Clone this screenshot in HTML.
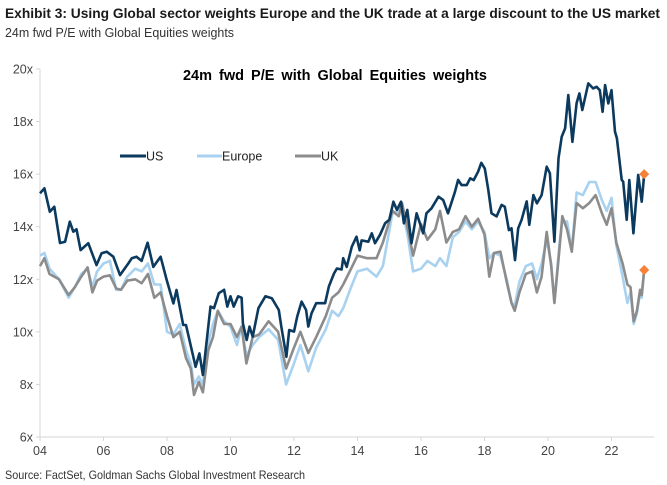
<!DOCTYPE html>
<html><head><meta charset="utf-8"><style>
html,body{margin:0;padding:0;background:#fff;}
svg{display:block;font-family:"Liberation Sans",Arial,sans-serif;}
</style></head><body>
<svg id="chart" width="667" height="485" viewBox="0 0 667 485">
<text x="5" y="18" font-size="14" font-weight="bold" fill="#1a1a1a" textLength="655" lengthAdjust="spacingAndGlyphs">Exhibit 3: Using Global sector weights Europe and the UK trade at a large discount to the US market</text>
<text x="5" y="37" font-size="12.5" fill="#333" textLength="229" lengthAdjust="spacingAndGlyphs">24m fwd P/E with Global Equities weights</text>
<text x="335" y="80" font-size="14.5" font-weight="bold" fill="#000" text-anchor="middle" word-spacing="3">24m fwd P/E with Global Equities weights</text>
<g id="axes"></g>
<g id="series"></g>
<g>
<g><line x1="120" y1="156" x2="146" y2="156" stroke="#0b3a5e" stroke-width="3"/><text x="146" y="160.5" font-size="12.5" fill="#222">US</text></g>
<g><line x1="197" y1="156" x2="222" y2="156" stroke="#a8d2f0" stroke-width="3"/><text x="222" y="160.5" font-size="12.5" fill="#222">Europe</text></g>
<g><line x1="295" y1="156" x2="321" y2="156" stroke="#8c8c8c" stroke-width="3"/><text x="321" y="160.5" font-size="12.5" fill="#222">UK</text></g>
</g>
<text x="5" y="479" font-size="12" fill="#333" textLength="300" lengthAdjust="spacingAndGlyphs">Source: FactSet, Goldman Sachs Global Investment Research</text>
</svg>
<script>
const yTicks = [6,8,10,12,14,16,18,20];
const xTickYears = [2004,2006,2008,2010,2012,2014,2016,2018,2020,2022];
const xTickLabels = ["04","06","08","10","12","14","16","18","20","22"];
const usDates = [2004.0,2004.14,2004.31,2004.45,2004.63,2004.79,2004.94,2005.05,2005.15,2005.28,2005.52,2005.78,2005.94,2006.1,2006.31,2006.52,2006.78,2006.89,2007.04,2007.2,2007.39,2007.57,2007.8,2007.99,2008.2,2008.3,2008.51,2008.6,2008.9,2009.02,2009.13,2009.37,2009.48,2009.63,2009.8,2009.9,2010.0,2010.1,2010.24,2010.35,2010.39,2010.51,2010.6,2010.7,2010.88,2011.1,2011.3,2011.52,2011.6,2011.76,2011.85,2012.0,2012.1,2012.24,2012.38,2012.45,2012.55,2012.7,2012.98,2013.1,2013.26,2013.35,2013.5,2013.55,2013.66,2013.82,2013.97,2014.07,2014.13,2014.34,2014.45,2014.55,2014.71,2014.87,2015.0,2015.13,2015.24,2015.37,2015.46,2015.57,2015.7,2015.86,2016.07,2016.17,2016.33,2016.55,2016.7,2016.85,2017.07,2017.17,2017.28,2017.44,2017.55,2017.66,2017.8,2017.9,2018.01,2018.12,2018.22,2018.38,2018.54,2018.64,2018.77,2018.85,2018.96,2019.06,2019.17,2019.33,2019.41,2019.54,2019.65,2019.8,2019.96,2020.06,2020.2,2020.33,2020.43,2020.54,2020.64,2020.77,2020.9,2020.99,2021.08,2021.27,2021.42,2021.53,2021.63,2021.72,2021.8,2021.9,2022.0,2022.11,2022.17,2022.32,2022.37,2022.48,2022.56,2022.69,2022.84,2022.95,2023.03];
const usValues = [15.27,15.46,14.57,14.76,13.38,13.43,14.19,13.81,13.9,13.11,13.37,12.54,12.99,13.05,12.86,12.16,12.6,12.8,12.86,12.7,13.39,12.47,12.86,11.97,11.08,11.59,10.26,10.26,8.67,9.18,8.36,10.96,10.9,11.47,11.6,10.96,11.35,10.96,11.35,11.3,10.32,9.69,10.2,9.82,10.9,11.35,11.28,10.83,10.2,9.05,10.07,10.01,10.58,11.15,10.83,10.2,10.7,11.09,11.09,11.73,12.22,12.41,12.37,12.8,12.47,13.24,13.62,13.1,13.48,13.43,13.75,13.37,13.69,14.13,14.26,14.95,14.64,14.95,14.13,14.64,13.37,14.51,13.75,14.51,14.7,15.14,15.01,14.51,15.33,15.78,15.58,15.58,15.84,15.77,16.09,16.43,16.21,15.4,14.51,14.39,14.83,14.76,13.87,13.94,12.73,13.94,14.26,14.96,14.07,15.2,14.89,15.2,16.28,16.03,13.43,16.6,17.42,17.74,19.01,17.23,18.7,19.07,18.44,19.45,19.26,19.32,19.19,18.37,19.39,18.69,19.19,17.61,17.36,15.78,15.71,14.26,15.77,13.75,15.97,14.95,16.0];
const euDates = [2004.0,2004.14,2004.3,2004.6,2004.9,2005.1,2005.3,2005.5,2005.65,2005.8,2006.0,2006.2,2006.4,2006.55,2006.75,2007.0,2007.2,2007.4,2007.6,2007.8,2008.0,2008.2,2008.4,2008.6,2008.75,2008.85,2009.0,2009.13,2009.3,2009.45,2009.6,2009.8,2010.0,2010.2,2010.35,2010.5,2010.7,2010.9,2011.2,2011.5,2011.75,2012.0,2012.2,2012.45,2012.7,2013.0,2013.2,2013.4,2013.55,2013.8,2014.0,2014.3,2014.6,2014.8,2015.1,2015.3,2015.4,2015.6,2015.75,2016.0,2016.2,2016.45,2016.6,2016.8,2017.0,2017.2,2017.4,2017.6,2017.8,2018.0,2018.15,2018.3,2018.5,2018.7,2018.85,2018.95,2019.1,2019.3,2019.5,2019.65,2019.8,2019.96,2020.1,2020.2,2020.35,2020.45,2020.6,2020.75,2020.9,2021.1,2021.3,2021.5,2021.7,2021.85,2022.0,2022.15,2022.35,2022.5,2022.6,2022.7,2022.8,2022.9,2022.95,2023.03];
const euValues = [12.9,13.0,12.4,12.0,11.3,11.7,12.2,12.4,11.7,12.3,12.6,12.7,11.6,11.6,12.1,12.4,12.3,12.6,11.8,11.8,10.0,9.9,10.3,9.3,8.8,8.0,8.3,8.0,9.6,10.3,10.8,10.4,10.2,9.5,10.2,9.1,9.5,9.8,10.1,9.7,8.0,8.8,9.5,8.5,9.4,10.1,10.8,10.6,10.9,11.7,12.3,12.4,12.1,12.5,14.5,14.6,14.8,13.5,12.3,12.4,12.7,12.5,12.8,12.5,13.6,13.8,14.2,13.9,14.2,13.8,12.8,13.0,12.9,12.0,11.1,11.0,11.9,12.5,12.6,12.0,12.6,13.5,12.6,11.1,13.2,14.2,14.2,13.1,15.3,15.2,15.7,15.7,15.0,14.6,15.1,13.3,12.1,11.1,11.5,10.3,10.7,11.5,11.3,12.35];
const ukDates = euDates;
const ukValues = [12.5,12.8,12.2,12.0,11.4,11.7,12.1,12.45,11.5,11.95,12.1,12.15,11.65,11.6,11.95,12.0,11.85,12.2,11.3,11.5,10.6,9.8,10.0,9.0,8.6,7.6,8.1,7.7,9.3,9.8,10.8,10.3,10.3,9.8,10.2,8.8,9.8,9.9,10.4,10.0,8.6,9.4,10.0,9.2,9.8,10.6,11.3,11.5,11.8,12.4,12.9,12.8,12.8,13.4,14.6,14.4,14.9,13.8,12.9,14.1,13.5,13.9,14.6,13.4,13.8,13.9,14.4,14.0,14.3,13.7,12.1,13.0,13.05,11.9,11.1,10.8,11.5,12.2,12.3,11.5,12.1,13.8,12.5,11.1,13.0,14.4,13.9,13.05,14.9,14.7,14.9,15.2,14.5,14.07,14.7,13.4,12.6,11.8,11.7,10.4,10.8,11.6,11.4,12.35];

const NS="http://www.w3.org/2000/svg";
const X0=40, PX_PER_YEAR=31.75, Y0=437, PX_PER_UNIT=26.29;
function xScale(t){return X0+(t-2004)*PX_PER_YEAR;}
function yScale(v){return Y0-(v-6)*PX_PER_UNIT;}
function mk(tag,attrs,parent){const e=document.createElementNS(NS,tag);for(const k in attrs)e.setAttribute(k,attrs[k]);parent.appendChild(e);return e;}
const axes=document.getElementById('axes');
const yAxis=mk('line',{x1:X0,y1:yScale(20),x2:X0,y2:Y0,stroke:'#d6d6d6','stroke-width':1},axes);


const xAxis=mk('line',{x1:X0,y1:Y0,x2:654,y2:Y0,stroke:'#d6d6d6','stroke-width':1},axes);


yTicks.forEach(v=>{
  const tk=mk('line',{x1:X0-4,y1:yScale(v),x2:X0,y2:yScale(v),stroke:'#d6d6d6'},axes);
  
  
  const t=mk('text',{x:X0-7,y:yScale(v)+4.5,'font-size':12.5,fill:'#444','text-anchor':'end'},axes);
  t.textContent=v+'x';
  
  
});
xTickYears.forEach((yr,i)=>{
  const tk=mk('line',{x1:xScale(yr),y1:Y0,x2:xScale(yr),y2:Y0+4,stroke:'#d6d6d6'},axes);
  
  
  const t=mk('text',{x:xScale(yr),y:Y0+18,'font-size':12.5,fill:'#444','text-anchor':'middle'},axes);
  t.textContent=xTickLabels[i];
  
  
});
const series=document.getElementById('series');
function drawLine(dates,vals,color,name){
  const d=dates.map((t,i)=>(i?'L':'M')+xScale(t).toFixed(1)+','+yScale(vals[i]).toFixed(1)).join('');
  const p=mk('path',{d:d,fill:'none',stroke:color,'stroke-width':2.6,'stroke-linejoin':'round'},series);
  
  
}
drawLine(euDates,euValues,'#a8d2f0','europe-line');
drawLine(ukDates,ukValues,'#8c8c8c','uk-line');
drawLine(usDates,usValues,'#0b3a5e','us-line');
function marker(t,v,name){
  const x=xScale(t),y=yScale(v);
  const m=mk('path',{d:`M${x},${y-5}L${x+5},${y}L${x},${y+5}L${x-5},${y}Z`,fill:'#f5813a'},series);
  
  
}
marker(usDates[usDates.length-1],usValues[usValues.length-1],'us-latest-marker');
marker(ukDates[ukDates.length-1],ukValues[ukValues.length-1],'uk-latest-marker');
</script>
</body></html>
